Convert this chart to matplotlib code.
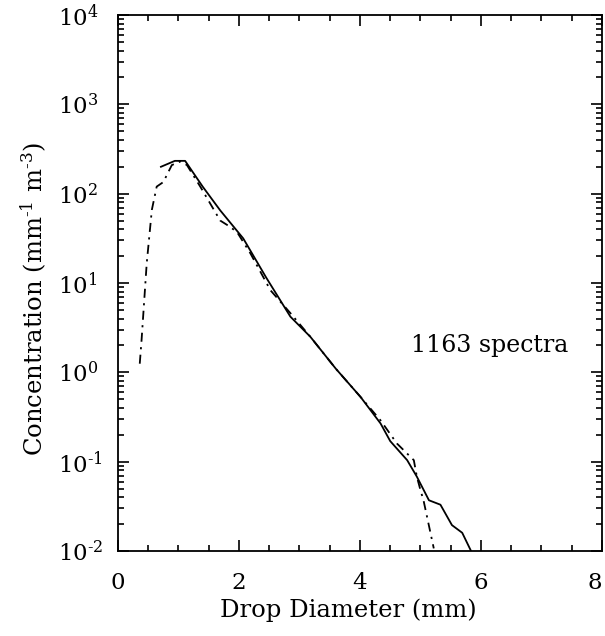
import numpy as np
import matplotlib
matplotlib.use("Agg")
from matplotlib import pyplot as plt
from matplotlib.ticker import FixedLocator, LogLocator, FuncFormatter, NullFormatter

plt.rcParams['font.family'] = ['DejaVu Serif']
plt.rcParams['mathtext.fontset'] = 'dejavuserif'

# solid curve: drop diameter (mm) vs concentration (mm-1 m-3)
solid_d = [0.71, 0.94, 1.11, 1.40, 1.69, 2.07, 2.45, 2.85, 3.18, 3.60, 4.01, 4.34,
           4.50, 4.78, 4.94, 5.14, 5.33, 5.52, 5.69, 5.83]
solid_n = [200, 233, 233, 120, 65, 31.6, 11.5, 4.2, 2.5, 1.1, 0.53, 0.268,
           0.17, 0.104, 0.068, 0.037, 0.033, 0.0195, 0.016, 0.0102]

# dash-dot curve
dash_d = [0.36, 0.39, 0.475, 0.56, 0.64, 0.75, 0.89, 1.03, 1.14, 1.36, 1.69, 1.85,
          1.97, 2.19, 2.52, 2.85, 3.18, 3.60, 4.01, 4.34, 4.61, 4.89, 4.94, 5.00,
          5.05, 5.22]
dash_n = [1.25, 2.3, 16.6, 66, 120, 135, 209, 229, 209, 120, 50, 42.7,
          37, 21.4, 8.3, 4.6, 2.5, 1.1, 0.53, 0.29, 0.16, 0.104, 0.068, 0.048,
          0.037, 0.0107]

xticks = [0, 2, 4, 6, 8]
yticks = [1e-2, 1e-1, 1e0, 1e1, 1e2, 1e3, 1e4]

fig = plt.figure(figsize=(6.05, 6.36), dpi=100)
ax = fig.add_axes([0.195, 0.1336, 0.8, 0.8428])

ax.plot(solid_d, solid_n, color='black', lw=1.3)
ax.plot(dash_d, dash_n, color='black', lw=1.3, dashes=(5, 3, 1.2, 3))

ax.set_yscale('log')
ax.set_xlim(0, 8)
ax.set_ylim(1e-2, 1e4)

ax.xaxis.set_major_locator(FixedLocator(xticks))
ax.xaxis.set_minor_locator(FixedLocator(np.arange(0, 8.01, 0.5)))
ax.yaxis.set_major_locator(FixedLocator(yticks))
ax.yaxis.set_minor_locator(LogLocator(base=10, subs=np.arange(2, 10), numticks=20))
ax.yaxis.set_minor_formatter(NullFormatter())

HY = '\u2010'


def ylab(v, pos):
    e = int(round(np.log10(v)))
    s = HY + str(-e) if e < 0 else str(e)
    return r'10$^{\mathrm{%s}}$' % s


ax.yaxis.set_major_formatter(FuncFormatter(ylab))
ax.xaxis.set_major_formatter(FuncFormatter(lambda v, p: '%d' % v))

ax.tick_params(which='both', direction='in', top=True, right=True, width=1.2)
ax.tick_params(which='major', length=8, labelsize=16.5)
ax.tick_params(which='minor', length=4)
ax.tick_params(axis='x', which='major', pad=15)
ax.tick_params(axis='y', which='major', pad=43)
plt.setp(ax.get_yticklabels(), ha='left')
# last x label sits at the figure edge; keep it inside
ax.get_xticklabels()[-1].set_ha('right')
for s in ax.spines.values():
    s.set_linewidth(1.3)

ax.set_xlabel('Drop Diameter (mm)', fontsize=17.5)
ax.xaxis.set_label_coords(0.475, -0.088)
ax.set_ylabel(r'Concentration (mm$^{\mathrm{%s1}}$ m$^{\mathrm{%s3}}$)' % (HY, HY),
              fontsize=17.5)
ax.yaxis.set_label_coords(-0.143, 0.47)

ax.text(6.15, 1.68, '1163 spectra', fontsize=17, ha='center', va='baseline')

fig.savefig('out.png', dpi=100)
